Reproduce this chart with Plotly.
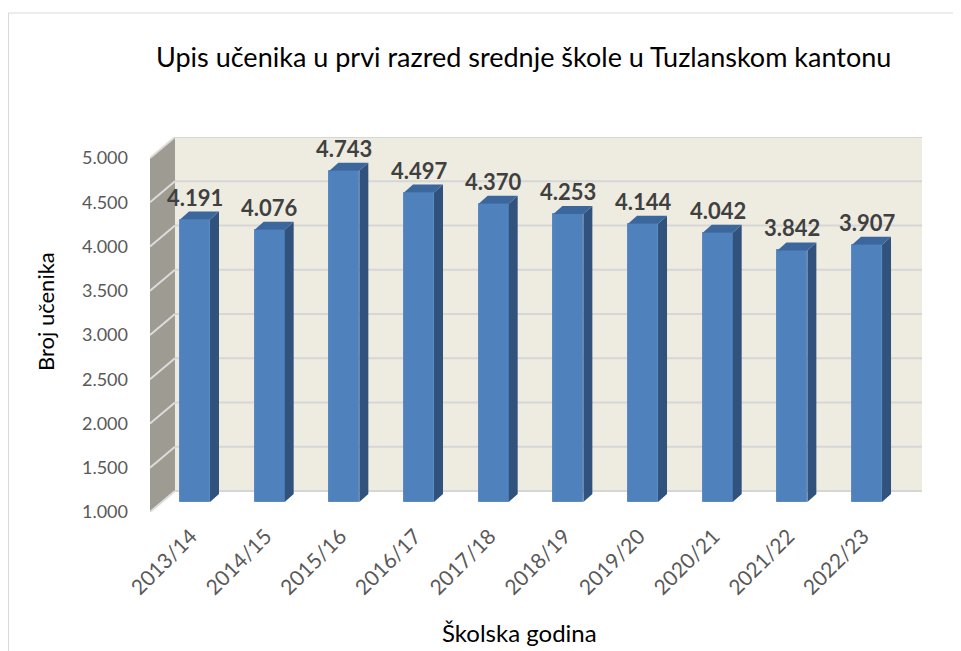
import plotly.graph_objects as go

# Data
godine = ["2013/14", "2014/15", "2015/16", "2016/17", "2017/18",
          "2018/19", "2019/20", "2020/21", "2021/22", "2022/23"]
upisani = [4191, 4076, 4743, 4497, 4370, 4253, 4144, 4042, 3842, 3907]
y_ticks = [1000, 1500, 2000, 2500, 3000, 3500, 4000, 4500, 5000]

FONT = "Lato"

# Pixel geometry of the plot area (front plane), in page px
W, H = 961, 651
OFF = 8                               # default body margin of the html page
L, R, T, B = 150, 922, 137, 512
BASE, TOP = 1000, 5000
px_per_x = 74.67                      # one category step in px
px_per_y = (B - T) / (TOP - BASE + 21 / 0.0885)

def ux(px):  # px -> x data units
    return px / px_per_x

def uy(px):  # px -> y data units
    return px / px_per_y

def paper_x(px):
    return (px - L) / (R - L)

def paper_y(px):
    return (B - px) / (B - T)

# 3D offsets
wall_dx, wall_dy = ux(25), uy(21)     # front plane -> back wall
bar_dy = uy(10)                       # bars stand between front and back
side_dx, side_dy = ux(9), uy(8)       # bar depth
bar_w = ux(30)

x0 = -ux(195 - L)
x1 = x0 + ux(R - L)
y_top = TOP + wall_dy
xs = list(range(len(godine)))

fig = go.Figure()

# Front faces of the bars
fig.add_trace(go.Bar(
    x=xs,
    y=[v - BASE for v in upisani],
    base=BASE + bar_dy,
    width=bar_w,
    marker=dict(color="#4F81BD", line=dict(color="#5B8BC5", width=1)),
    customdata=upisani,
    hovertemplate="%{customdata:,d}<extra></extra>",
    showlegend=False,
))

shapes = []
# side wall
shapes.append(dict(
    type="path", layer="below", xref="x", yref="y",
    path=f"M{x0},{BASE} L{x0 + wall_dx},{BASE + wall_dy} L{x0 + wall_dx},{y_top} L{x0},{TOP} Z",
    fillcolor="#9D9B92", line=dict(width=0),
))
# back wall
shapes.append(dict(
    type="rect", layer="below", xref="x", yref="y",
    x0=x0 + wall_dx, x1=x1, y0=BASE + wall_dy, y1=y_top,
    fillcolor="#EEECE1", line=dict(width=0),
))
# gridlines on back and side walls
for v in y_ticks:
    shapes.append(dict(
        type="line", layer="below", xref="x", yref="y",
        x0=x0 + wall_dx, x1=x1, y0=v + wall_dy, y1=v + wall_dy,
        line=dict(color="#D6D6D6", width=2),
    ))
    shapes.append(dict(
        type="line", layer="below", xref="x", yref="y",
        x0=x0, x1=x0 + wall_dx, y0=v, y1=v + wall_dy,
        line=dict(color="#DCDCDC", width=2),
    ))

# side and top faces of the bars
for i, v in zip(xs, upisani):
    xl, xr = i - bar_w / 2, i + bar_w / 2
    yb, yt = BASE + bar_dy, v + bar_dy
    shapes.append(dict(
        type="path", layer="above", xref="x", yref="y",
        path=f"M{xr},{yb} L{xr + side_dx},{yb + side_dy} L{xr + side_dx},{yt + side_dy} L{xr},{yt} Z",
        fillcolor="#30527C", line=dict(width=0),
    ))
    shapes.append(dict(
        type="path", layer="above", xref="x", yref="y",
        path=f"M{xl},{yt} L{xr},{yt} L{xr + side_dx},{yt + side_dy} L{xl + side_dx},{yt + side_dy} Z",
        fillcolor="#3C679C", line=dict(width=0),
    ))

# outer chart border
shapes.append(dict(
    type="rect", xref="paper", yref="paper",
    x0=paper_x(OFF + 0.5), x1=1.2, y0=-1, y1=paper_y(13),
    line=dict(color="#D9D9D9", width=1), fillcolor="rgba(0,0,0,0)",
))

annotations = []
for i, v in zip(xs, upisani):
    annotations.append(dict(
        x=i, y=v + bar_dy + side_dy, xref="x", yref="y",
        text=f"{v:,d}".replace(",", "."), showarrow=False,
        xanchor="center", yanchor="bottom", yshift=-1,
        font=dict(family=FONT, size=22, color="#404040", weight="bold"),
    ))

annotations.append(dict(
    text="Upis učenika u prvi razred srednje škole u Tuzlanskom kantonu",
    xref="paper", yref="paper", x=paper_x(523), y=paper_y(57),
    xanchor="center", yanchor="middle",
    showarrow=False, font=dict(family=FONT, size=27, color="#000000"),
))
annotations.append(dict(
    text="Broj učenika", textangle=-90,
    xref="paper", yref="paper", x=paper_x(45), y=paper_y(311),
    xanchor="center", yanchor="middle",
    showarrow=False, font=dict(family=FONT, size=22, color="#000000"),
))
annotations.append(dict(
    text="Školska godina",
    xref="paper", yref="paper", x=paper_x(519), y=paper_y(632),
    xanchor="center", yanchor="middle",
    showarrow=False, font=dict(family=FONT, size=24, color="#000000"),
))

fig.update_layout(
    width=W, height=H, autosize=False,
    margin=dict(l=L - OFF, r=W - R + OFF, t=T - OFF, b=H - B + OFF),
    paper_bgcolor="white", plot_bgcolor="rgba(0,0,0,0)",
    separators=",.",
    shapes=shapes,
    annotations=annotations,
    xaxis=dict(
        range=[x0, x1], tickvals=[i - ux(4) for i in xs], ticktext=godine,
        tickangle=-45,
        showgrid=False, zeroline=False, showline=False,
        tickfont=dict(family=FONT, size=21, color="#595959"),
        ticklabelstandoff=7,
    ),
    yaxis=dict(
        range=[BASE, y_top], tickvals=y_ticks, tickformat=",d",
        showgrid=False, zeroline=False, showline=False,
        tickfont=dict(family=FONT, size=18, color="#595959"),
        ticklabelstandoff=21,
    ),
    bargap=0,
)

fig.write_html("out.html")
